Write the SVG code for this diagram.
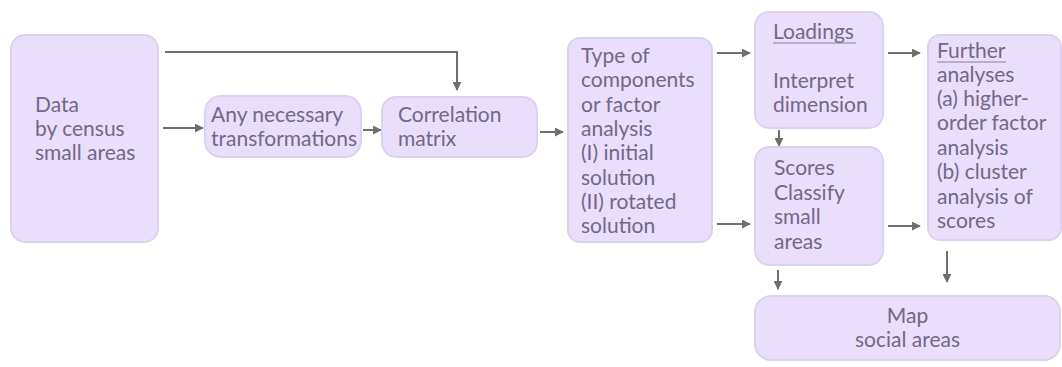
<svg xmlns="http://www.w3.org/2000/svg" width="1062" height="367" viewBox="0 0 1062 367">
<defs>
<style>
.box{fill:#e9defc;stroke:#ddd2ee;stroke-width:2}
.t{font-family:Lato,"Liberation Sans",sans-serif;font-size:21px;fill:#73678a}
.c{stroke:#6f6f6f;stroke-width:2;fill:none}
.u{stroke:#8a7e9a;stroke-width:1.2}
</style>
<marker id="ah" viewBox="0 0 10 10" refX="9" refY="5" markerWidth="4.5" markerHeight="4.5" orient="auto" markerUnits="strokeWidth">
<path d="M0,0 L10,5 L0,10 z" fill="#6f6f6f"/>
</marker>
</defs>
<rect width="1062" height="367" fill="#ffffff"/>
<g id="connectors">
<path class="c" d="M165,52 H457 V90" marker-end="url(#ah)"/>
<path class="c" d="M163,128 H203" marker-end="url(#ah)"/>
<path class="c" d="M363,130 H381" marker-end="url(#ah)"/>
<path class="c" d="M540,132 H563" marker-end="url(#ah)"/>
<path class="c" d="M717,53 H750" marker-end="url(#ah)"/>
<path class="c" d="M717,224 H750" marker-end="url(#ah)"/>
<path class="c" d="M779,130 V146" marker-end="url(#ah)"/>
<path class="c" d="M888,53 H920" marker-end="url(#ah)"/>
<path class="c" d="M888,226 H920" marker-end="url(#ah)"/>
<path class="c" d="M778,270 V289" marker-end="url(#ah)"/>
<path class="c" d="M947,251 V282" marker-end="url(#ah)"/>
</g>
<g id="data">
<rect class="box" x="11" y="35" width="147" height="207" rx="14"/>
<text class="t" x="35" y="112">Data</text>
<text class="t" x="35" y="136">by census</text>
<text class="t" x="35" y="160">small areas</text>
</g>
<g id="transform">
<rect class="box" x="205" y="96" width="156" height="61" rx="16"/>
<text class="t" x="211" y="122">Any necessary</text>
<text class="t" x="211" y="146">transformations</text>
</g>
<g id="correlation">
<rect class="box" x="382" y="97" width="155" height="60" rx="14"/>
<text class="t" x="398" y="122">Correlation</text>
<text class="t" x="398" y="146">matrix</text>
</g>
<g id="type">
<rect class="box" x="568" y="38" width="144" height="204" rx="12"/>
<text class="t" x="581" y="63">Type of</text>
<text class="t" x="581" y="87.3">components</text>
<text class="t" x="581" y="111.6">or factor</text>
<text class="t" x="581" y="135.9">analysis</text>
<text class="t" x="581" y="160.2">(I) initial</text>
<text class="t" x="581" y="184.5">solution</text>
<text class="t" x="581" y="208.8">(II) rotated</text>
<text class="t" x="581" y="233.1">solution</text>
</g>
<g id="loadings">
<rect class="box" x="755" y="12" width="128" height="116" rx="14"/>
<text class="t" x="773" y="39">Loadings</text>
<line class="u" x1="773" y1="43" x2="856" y2="43"/>
<text class="t" x="773" y="88">Interpret</text>
<text class="t" x="773" y="112">dimension</text>
</g>
<g id="scores">
<rect class="box" x="755" y="147" width="128" height="118" rx="14"/>
<text class="t" x="774" y="175">Scores</text>
<text class="t" x="774" y="199.5">Classify</text>
<text class="t" x="774" y="224">small</text>
<text class="t" x="774" y="248.5">areas</text>
</g>
<g id="further">
<rect class="box" x="928" y="35" width="133" height="205" rx="12"/>
<text class="t" x="937" y="58">Further</text>
<line class="u" x1="937" y1="62" x2="1006" y2="62"/>
<text class="t" x="937" y="82">analyses</text>
<text class="t" x="937" y="106">(a) higher-</text>
<text class="t" x="937" y="130">order factor</text>
<text class="t" x="937" y="155">analysis</text>
<text class="t" x="937" y="179">(b) cluster</text>
<text class="t" x="937" y="204">analysis of</text>
<text class="t" x="937" y="228">scores</text>
</g>
<g id="map">
<rect class="box" x="755" y="296" width="305" height="64" rx="16"/>
<text class="t" x="907.5" y="323" text-anchor="middle">Map</text>
<text class="t" x="907.5" y="347" text-anchor="middle">social areas</text>
</g>
</svg>
